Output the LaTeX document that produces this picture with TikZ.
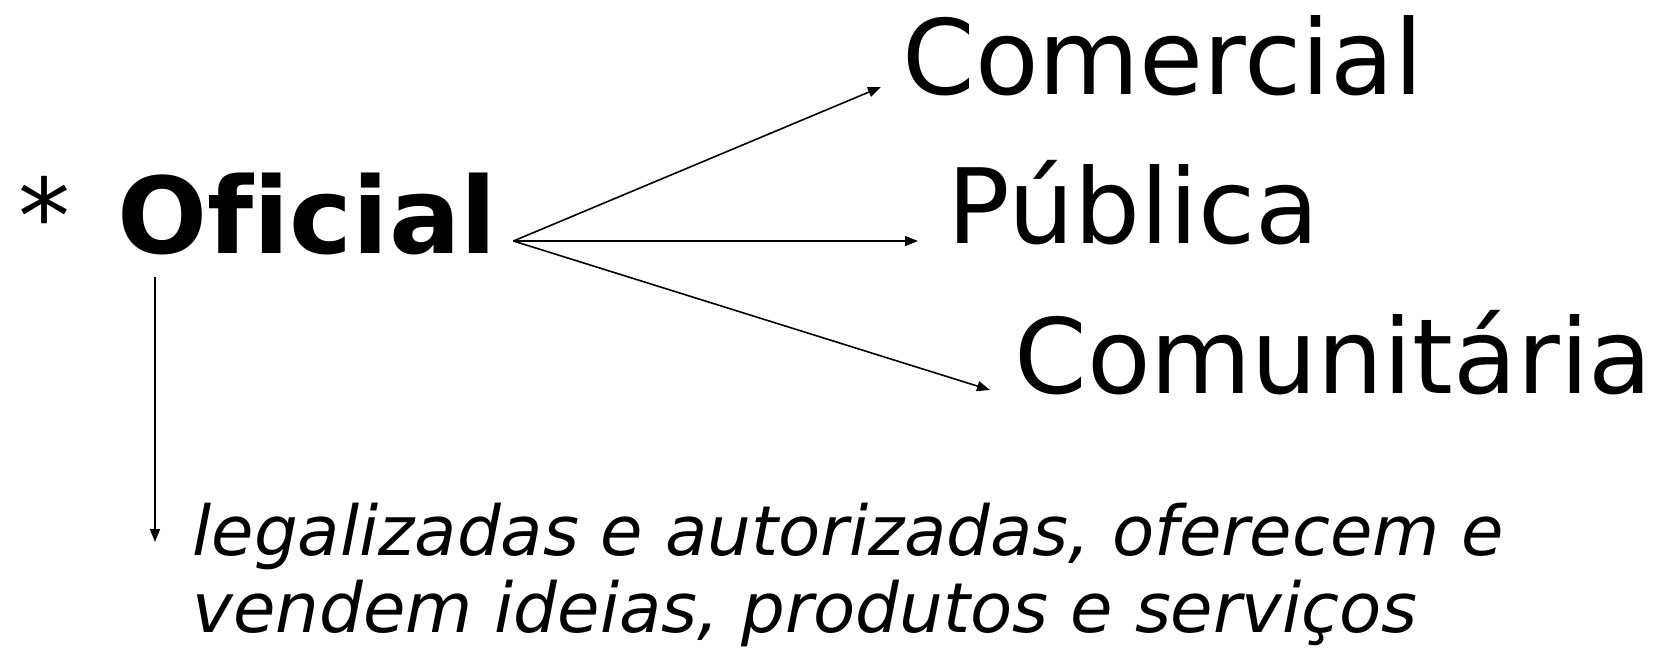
\documentclass[tikz,border=0pt]{standalone}
\usepackage{fontspec}
\setmainfont{DejaVu Sans}[Ligatures=NoCommon]
\usetikzlibrary{arrows.meta}
\tikzset{
  big/.style={inner sep=0pt, anchor=base west, font=\fontsize{52}{60}\selectfont},
  note/.style={inner sep=0pt, anchor=base west, align=left,
    font=\fontsize{34.5}{38.5}\selectfont\itshape},
  link/.style={line width=0.8pt, -{Triangle[length=6.5pt,width=5pt]}}
}
\begin{document}
\begin{tikzpicture}[x=0.5pt,y=-0.5pt]
\useasboundingbox (0,0) rectangle (1673,650);
% the words
\node[big] (star) at (18,253) {*};
\node[big] (oficial) at (117,253) {\fontsize{53}{60}\selectfont\bfseries Oficial};
\node[big] (comercial) at (902,94) {Comercial};
\node[big] (publica) at (947,243) {Pública};
\node[big] (comunitaria) at (1014,393) {Comunitária};
% base of the note is its second line
\node[note] (desc) at (192,632) {legalizadas e autorizadas, oferecem e\\vendem ideias, produtos e serviços};
% the arrows
\coordinate (src) at ([xshift=8pt,yshift=6pt]oficial.base east);
\coordinate (down) at ([xshift=19pt,yshift=-12pt]oficial.base west);
\draw[link] (src) -- ([xshift=-10.5pt,yshift=3.5pt]comercial.base west);
\draw[link] (src) -- ([xshift=-14.5pt,yshift=1pt]publica.base west);
\draw[link] (src) -- ([xshift=-12pt,yshift=1.5pt]comunitaria.base west);
\draw[link] (down) -- ([xshift=-18.5pt,yshift=45pt]desc.base west);
\end{tikzpicture}
\end{document}
